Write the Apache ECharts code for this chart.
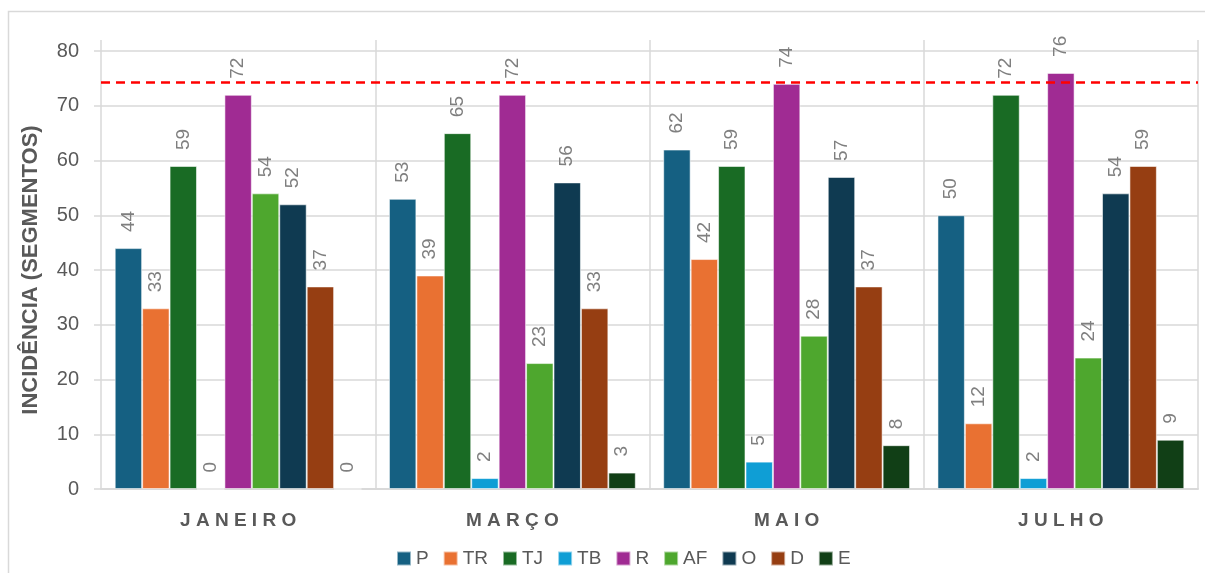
<!DOCTYPE html>
<html>
<head>
<meta charset="utf-8">
<style>
  html, body { margin: 0; padding: 0; background: #ffffff; }
  #chart { width: 1205px; height: 573px; }
</style>
<script src="https://cdn.jsdelivr.net/npm/echarts@6/dist/echarts.min.js"></script>
</head>
<body>
<div id="chart"></div>
<script>
// Months (categories) and incidence per class
const months = ['J A N E I R O', 'M A R Ç O', 'M A I O', 'J U L H O'];
const seriesNames = ['P', 'TR', 'TJ', 'TB', 'R', 'AF', 'O', 'D', 'E'];
const P  = [44, 53, 62, 50];
const TR = [33, 39, 42, 12];
const TJ = [59, 65, 59, 72];
const TB = [0, 2, 5, 2];
const R  = [72, 72, 74, 76];
const AF = [54, 23, 28, 24];
const O  = [52, 56, 57, 54];
const D  = [37, 33, 37, 59];
const E  = [0, 3, 8, 9];
const yTicks = { min: 0, max: 80, interval: 10 };
const referenceLevel = 74.3;

const values = [P, TR, TJ, TB, R, AF, O, D, E];
const colors = ['#156082', '#E97132', '#196B24', '#0F9ED5', '#A02B93',
                '#4EA72E', '#0F3A51', '#963E12', '#113F16'];
const baseFont = 'Liberation Sans, Arial, sans-serif';

const chart = echarts.init(document.getElementById('chart'));

const series = seriesNames.map((name, i) => {
  const s = {
    name: name,
    type: 'bar',
    xAxisIndex: 0,
    yAxisIndex: 0,
    data: values[i],
    barGap: '0%',
    barCategoryGap: '10%',
    itemStyle: {
      color: colors[i],
      borderColor: 'rgba(255,255,255,0.55)',
      borderWidth: 1
    },
    label: {
      show: true,
      position: 'top',
      rotate: 90,
      align: 'left',
      verticalAlign: 'middle',
      distance: 16,
      color: '#7f7f7f',
      fontFamily: baseFont,
      fontSize: 19
    }
  };
  if (i === 0) {
    s.markLine = {
      silent: true,
      symbol: 'none',
      label: { show: false },
      lineStyle: { color: '#ff0000', width: 2.5, type: [9, 6] },
      data: [{ yAxis: referenceLevel }],
      z: 10
    };
  }
  return s;
});

chart.setOption({
  animation: false,
  backgroundColor: '#ffffff',
  graphic: [{
    type: 'rect',
    shape: { x: 8.5, y: 11.5, width: 1400, height: 800 },
    style: { fill: 'none', stroke: '#d9d9d9', lineWidth: 1.5 },
    silent: true,
    z: -10
  }],
  grid: [
    { left: 101, right: 7, top: 51, bottom: 84 },
    { left: 101, right: 7, top: 40, bottom: 84 }
  ],
  legend: {
    data: seriesNames,
    left: 391,
    top: 544,
    icon: 'rect',
    itemWidth: 14,
    itemHeight: 14,
    itemGap: 14,
    textStyle: {
      color: '#595959',
      fontSize: 19,
      fontFamily: baseFont
    }
  },
  xAxis: [
    {
      type: 'category',
      gridIndex: 0,
      data: months,
      axisLine: { show: true, lineStyle: { color: '#d9d9d9', width: 2 } },
      axisTick: { show: false },
      splitLine: { show: false },
      axisLabel: {
        margin: 22,
        color: '#595959',
        fontSize: 19,
        fontWeight: 'bold',
        fontFamily: baseFont
      }
    },
    {
      type: 'category',
      gridIndex: 1,
      data: months,
      axisLine: { show: false },
      axisTick: { show: false },
      axisLabel: { show: false },
      splitLine: { show: true, lineStyle: { color: '#d9d9d9', width: 1.5 } }
    }
  ],
  yAxis: [
    {
      type: 'value',
      gridIndex: 0,
      min: yTicks.min,
      max: yTicks.max,
      interval: yTicks.interval,
      name: 'INCIDÊNCIA (SEGMENTOS)',
      nameLocation: 'middle',
      nameGap: 59,
      nameTextStyle: {
        color: '#595959',
        fontSize: 22,
        fontWeight: 'bold',
        fontFamily: baseFont
      },
      axisLine: { show: false },
      axisTick: { show: true, length: 7, lineStyle: { color: '#d9d9d9', width: 1.5 } },
      splitLine: { show: true, lineStyle: { color: '#d9d9d9', width: 1.5 } },
      axisLabel: {
        margin: 22,
        color: '#595959',
        fontSize: 20,
        fontFamily: baseFont
      }
    },
    {
      type: 'value',
      gridIndex: 1,
      show: false,
      min: 0,
      max: 1
    }
  ],
  series: series
});
</script>
</body>
</html>
